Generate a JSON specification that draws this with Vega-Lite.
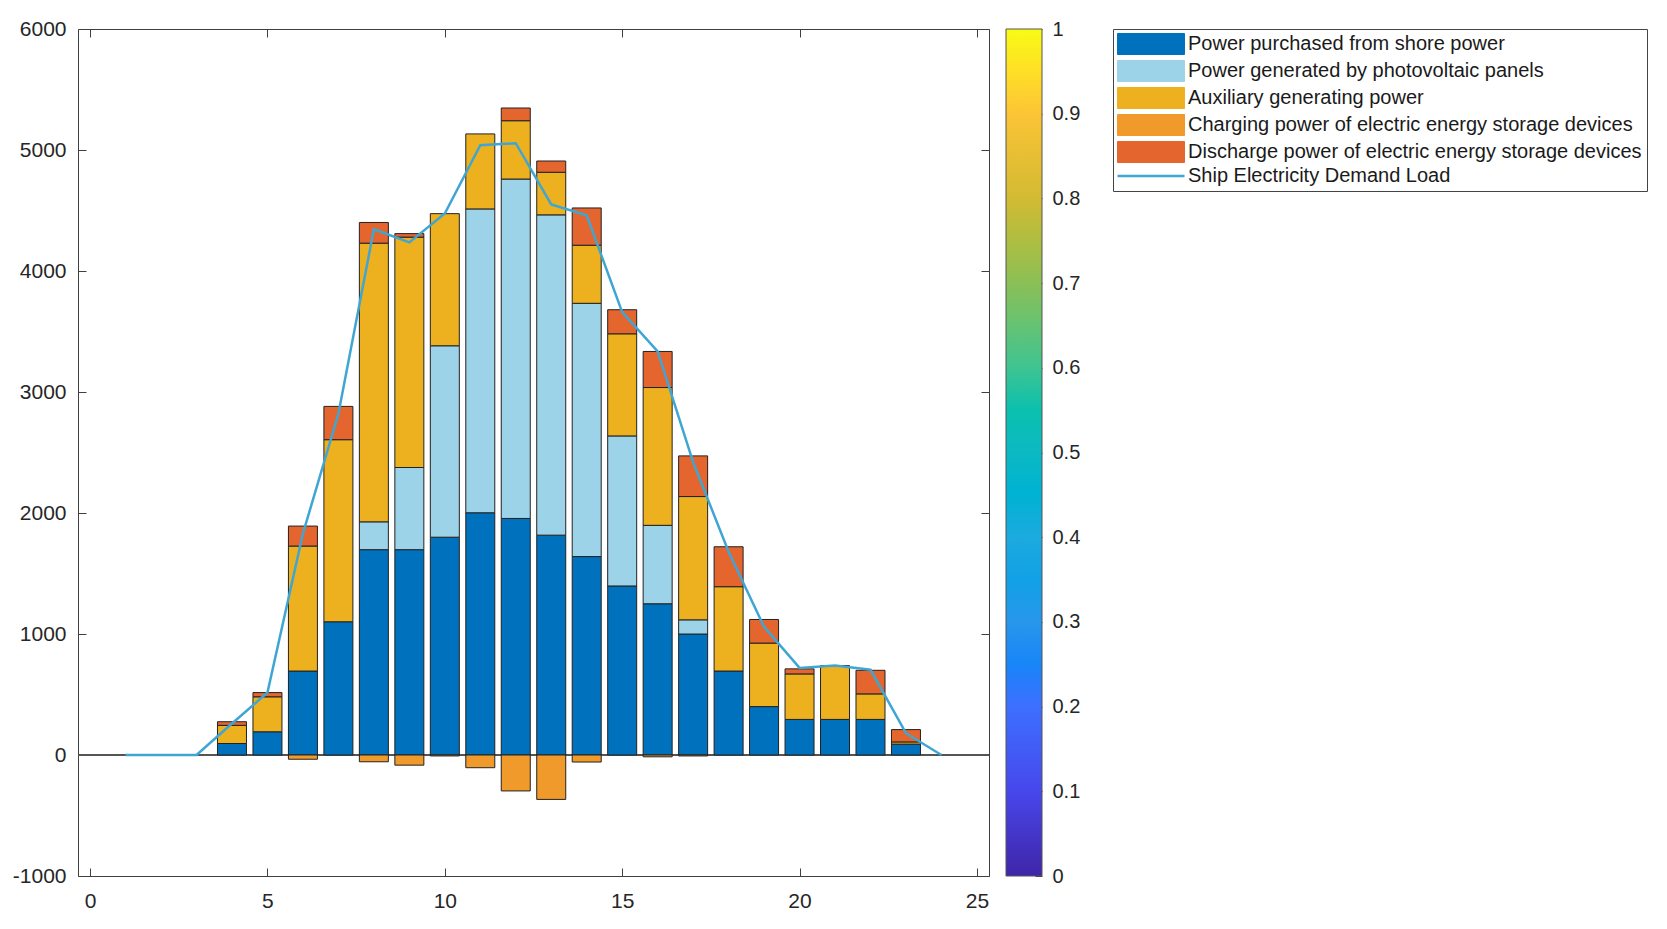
{
  "$schema": "https://vega.github.io/schema/vega-lite/v6.json",
  "width": 911,
  "height": 847,
  "autosize": {"type": "none"},
  "padding": {"left": 78, "top": 29, "right": 678, "bottom": 53},
  "background": "white",
  "config": {
    "view": {"stroke": null},
    "font": "Liberation Sans",
    "axis": {"grid": false, "domainColor": "#404040", "tickColor": "#404040", "labelColor": "#262626", "labelFont": "Liberation Sans", "labelFontSize": 21, "title": null, "labelFlush": false}
  },
  "datasets": {
    "parts": [
      {"h": 4, "s": "Power purchased from shore power", "k": 1, "v": 95},
      {"h": 4, "s": "Auxiliary generating power", "k": 3, "v": 150},
      {"h": 4, "s": "Discharge power of electric energy storage devices", "k": 5, "v": 30},
      {"h": 5, "s": "Power purchased from shore power", "k": 1, "v": 192},
      {"h": 5, "s": "Auxiliary generating power", "k": 3, "v": 289},
      {"h": 5, "s": "Discharge power of electric energy storage devices", "k": 5, "v": 35},
      {"h": 6, "s": "Power purchased from shore power", "k": 1, "v": 694},
      {"h": 6, "s": "Auxiliary generating power", "k": 3, "v": 1033},
      {"h": 6, "s": "Charging power of electric energy storage devices", "k": 4, "v": -35},
      {"h": 6, "s": "Discharge power of electric energy storage devices", "k": 5, "v": 165},
      {"h": 7, "s": "Power purchased from shore power", "k": 1, "v": 1101},
      {"h": 7, "s": "Auxiliary generating power", "k": 3, "v": 1505},
      {"h": 7, "s": "Discharge power of electric energy storage devices", "k": 5, "v": 275},
      {"h": 8, "s": "Power purchased from shore power", "k": 1, "v": 1697},
      {"h": 8, "s": "Power generated by photovoltaic panels", "k": 2, "v": 230},
      {"h": 8, "s": "Auxiliary generating power", "k": 3, "v": 2303},
      {"h": 8, "s": "Charging power of electric energy storage devices", "k": 4, "v": -56},
      {"h": 8, "s": "Discharge power of electric energy storage devices", "k": 5, "v": 171},
      {"h": 9, "s": "Power purchased from shore power", "k": 1, "v": 1697},
      {"h": 9, "s": "Power generated by photovoltaic panels", "k": 2, "v": 679},
      {"h": 9, "s": "Auxiliary generating power", "k": 3, "v": 1904},
      {"h": 9, "s": "Charging power of electric energy storage devices", "k": 4, "v": -84},
      {"h": 9, "s": "Discharge power of electric energy storage devices", "k": 5, "v": 29},
      {"h": 10, "s": "Power purchased from shore power", "k": 1, "v": 1800},
      {"h": 10, "s": "Power generated by photovoltaic panels", "k": 2, "v": 1582},
      {"h": 10, "s": "Auxiliary generating power", "k": 3, "v": 1092},
      {"h": 10, "s": "Charging power of electric energy storage devices", "k": 4, "v": -8},
      {"h": 11, "s": "Power purchased from shore power", "k": 1, "v": 2002},
      {"h": 11, "s": "Power generated by photovoltaic panels", "k": 2, "v": 2511},
      {"h": 11, "s": "Auxiliary generating power", "k": 3, "v": 620},
      {"h": 11, "s": "Charging power of electric energy storage devices", "k": 4, "v": -105},
      {"h": 12, "s": "Power purchased from shore power", "k": 1, "v": 1955},
      {"h": 12, "s": "Power generated by photovoltaic panels", "k": 2, "v": 2805},
      {"h": 12, "s": "Auxiliary generating power", "k": 3, "v": 482},
      {"h": 12, "s": "Charging power of electric energy storage devices", "k": 4, "v": -297},
      {"h": 12, "s": "Discharge power of electric energy storage devices", "k": 5, "v": 105},
      {"h": 13, "s": "Power purchased from shore power", "k": 1, "v": 1817},
      {"h": 13, "s": "Power generated by photovoltaic panels", "k": 2, "v": 2647},
      {"h": 13, "s": "Auxiliary generating power", "k": 3, "v": 352},
      {"h": 13, "s": "Charging power of electric energy storage devices", "k": 4, "v": -367},
      {"h": 13, "s": "Discharge power of electric energy storage devices", "k": 5, "v": 93},
      {"h": 14, "s": "Power purchased from shore power", "k": 1, "v": 1640},
      {"h": 14, "s": "Power generated by photovoltaic panels", "k": 2, "v": 2093},
      {"h": 14, "s": "Auxiliary generating power", "k": 3, "v": 480},
      {"h": 14, "s": "Charging power of electric energy storage devices", "k": 4, "v": -58},
      {"h": 14, "s": "Discharge power of electric energy storage devices", "k": 5, "v": 308},
      {"h": 15, "s": "Power purchased from shore power", "k": 1, "v": 1397},
      {"h": 15, "s": "Power generated by photovoltaic panels", "k": 2, "v": 1240},
      {"h": 15, "s": "Auxiliary generating power", "k": 3, "v": 844},
      {"h": 15, "s": "Discharge power of electric energy storage devices", "k": 5, "v": 199},
      {"h": 16, "s": "Power purchased from shore power", "k": 1, "v": 1250},
      {"h": 16, "s": "Power generated by photovoltaic panels", "k": 2, "v": 648},
      {"h": 16, "s": "Auxiliary generating power", "k": 3, "v": 1139},
      {"h": 16, "s": "Charging power of electric energy storage devices", "k": 4, "v": -15},
      {"h": 16, "s": "Discharge power of electric energy storage devices", "k": 5, "v": 298},
      {"h": 17, "s": "Power purchased from shore power", "k": 1, "v": 1000},
      {"h": 17, "s": "Power generated by photovoltaic panels", "k": 2, "v": 117},
      {"h": 17, "s": "Auxiliary generating power", "k": 3, "v": 1019},
      {"h": 17, "s": "Charging power of electric energy storage devices", "k": 4, "v": -8},
      {"h": 17, "s": "Discharge power of electric energy storage devices", "k": 5, "v": 336},
      {"h": 18, "s": "Power purchased from shore power", "k": 1, "v": 694},
      {"h": 18, "s": "Auxiliary generating power", "k": 3, "v": 697},
      {"h": 18, "s": "Discharge power of electric energy storage devices", "k": 5, "v": 330},
      {"h": 19, "s": "Power purchased from shore power", "k": 1, "v": 400},
      {"h": 19, "s": "Auxiliary generating power", "k": 3, "v": 525},
      {"h": 19, "s": "Discharge power of electric energy storage devices", "k": 5, "v": 195},
      {"h": 20, "s": "Power purchased from shore power", "k": 1, "v": 294},
      {"h": 20, "s": "Auxiliary generating power", "k": 3, "v": 376},
      {"h": 20, "s": "Discharge power of electric energy storage devices", "k": 5, "v": 42},
      {"h": 21, "s": "Power purchased from shore power", "k": 1, "v": 294},
      {"h": 21, "s": "Auxiliary generating power", "k": 3, "v": 445},
      {"h": 22, "s": "Power purchased from shore power", "k": 1, "v": 294},
      {"h": 22, "s": "Auxiliary generating power", "k": 3, "v": 211},
      {"h": 22, "s": "Discharge power of electric energy storage devices", "k": 5, "v": 195},
      {"h": 23, "s": "Power purchased from shore power", "k": 1, "v": 90},
      {"h": 23, "s": "Auxiliary generating power", "k": 3, "v": 18},
      {"h": 23, "s": "Discharge power of electric energy storage devices", "k": 5, "v": 102}
    ],
    "load": [
      {"h": 1, "load": 0}, {"h": 2, "load": 0}, {"h": 3, "load": 0},
      {"h": 4, "load": 260}, {"h": 5, "load": 516}, {"h": 6, "load": 1830},
      {"h": 7, "load": 2820}, {"h": 8, "load": 4345}, {"h": 9, "load": 4236},
      {"h": 10, "load": 4475}, {"h": 11, "load": 5040}, {"h": 12, "load": 5056},
      {"h": 13, "load": 4550}, {"h": 14, "load": 4460}, {"h": 15, "load": 3660},
      {"h": 16, "load": 3335}, {"h": 17, "load": 2420}, {"h": 18, "load": 1680},
      {"h": 19, "load": 1060}, {"h": 20, "load": 720}, {"h": 21, "load": 740},
      {"h": 22, "load": 705}, {"h": 23, "load": 180}, {"h": 24, "load": 0}
    ],
    "cbar": [{"c": 0}, {"c": 1}]
  },
  "resolve": {"axis": {"x": "independent", "y": "independent"}, "scale": {"y": "independent"}},
  "layer": [
    {
      "data": {"name": "load"},
      "mark": {"type": "rule", "color": "#555555", "strokeWidth": 1},
      "encoding": {"y": {"datum": 0, "type": "quantitative", "scale": {"domain": [-1000, 6000], "nice": false}, "axis": null}}
    },
    {
      "data": {"name": "parts"},
      "mark": {"type": "bar", "size": 29, "stroke": "#222222", "strokeWidth": 1},
      "encoding": {
        "x": {
          "field": "h",
          "type": "quantitative",
          "scale": {"domain": [-0.2, 25.2], "nice": false, "zero": false},
          "axis": {"orient": "bottom", "values": [0, 5, 10, 15, 20, 25], "tickSize": -8, "labelPadding": 22}
        },
        "y": {
          "field": "v",
          "type": "quantitative",
          "stack": "zero",
          "scale": {"domain": [-1000, 6000], "nice": false},
          "axis": {"orient": "left", "values": [-1000, 0, 1000, 2000, 3000, 4000, 5000, 6000], "labelExpr": "'' + datum.value", "tickSize": -8, "labelPadding": 20}
        },
        "order": {"field": "k", "type": "quantitative"},
        "color": {
          "field": "s",
          "type": "nominal",
          "scale": {
            "domain": [
              "Power purchased from shore power",
              "Power generated by photovoltaic panels",
              "Auxiliary generating power",
              "Charging power of electric energy storage devices",
              "Discharge power of electric energy storage devices",
              "Ship Electricity Demand Load"
            ],
            "range": ["#0072BD", "#9DD3E8", "#EDB120", "#EF9A2A", "#E4652E", "#3FA6D4"]
          },
          "legend": {
            "orient": "none",
            "legendX": 1035,
            "legendY": 0,
            "title": null,
            "symbolType": "M-1,-1H5.38V1H-1Z",
            "symbolSize": 441,
            "symbolStrokeColor": "#222222",
            "symbolStrokeWidth": 1,
            "symbolOpacity": 1,
            "labelFont": "Liberation Sans",
            "labelFontSize": 20,
            "labelColor": "#1a1a1a",
            "labelOffset": 50,
            "labelLimit": 700,
            "rowPadding": 1,
            "padding": 5,
            "strokeColor": "#444444",
            "fillColor": "white",
            "encode": {
              "symbols": {
                "update": {
                  "shape": {"signal": "datum.value === 'Ship Electricity Demand Load' ? 'M-1,0H5.38' : 'M-1,-1H5.38V1H-1Z'"},
                  "stroke": {"signal": "datum.value === 'Ship Electricity Demand Load' ? '#3FA6D4' : '#222222'"},
                  "strokeWidth": {"signal": "datum.value === 'Ship Electricity Demand Load' ? 2.5 : 1"}
                }
              }
            }
          }
        }
      }
    },
    {
      "data": {"name": "load"},
      "mark": {"type": "line", "strokeWidth": 2.5},
      "encoding": {
        "x": {
          "field": "h",
          "type": "quantitative",
          "axis": {"orient": "top", "values": [0, 5, 10, 15, 20, 25], "labels": false, "tickSize": -8}
        },
        "y": {
          "field": "load",
          "type": "quantitative",
          "scale": {"domain": [-1000, 6000], "nice": false},
          "axis": {"orient": "right", "values": [-1000, 0, 1000, 2000, 3000, 4000, 5000, 6000], "labels": false, "tickSize": -8}
        },
        "color": {"datum": "Ship Electricity Demand Load"}
      }
    },
    {
      "data": {"name": "cbar"},
      "mark": {"type": "point", "filled": true, "opacity": 1, "size": 0},
      "encoding": {
        "y": {
          "field": "c",
          "type": "quantitative",
          "scale": {"domain": [0, 1], "nice": false},
          "axis": {"orient": "right", "offset": 53, "values": [0, 0.1, 0.2, 0.3, 0.4, 0.5, 0.6, 0.7, 0.8, 0.9, 1], "format": "~g", "domain": false, "tickSize": -7, "labelPadding": 17, "labelFontSize": 20}
        },
        "fill": {
          "field": "c",
          "type": "quantitative",
          "scale": {
            "domain": [0, 0.1, 0.2, 0.3, 0.4, 0.5, 0.6, 0.7, 0.8, 0.9, 1],
            "range": ["#3E26A8", "#4747EB", "#3E6FFF", "#2796EB", "#1CAADF", "#0BB9C3", "#3EC492", "#8BBF56", "#D3BA33", "#FCC436", "#F9FB15"]
          },
          "legend": {
            "orient": "none",
            "legendX": 928,
            "legendY": 0,
            "direction": "vertical",
            "title": null,
            "gradientLength": 847,
            "gradientThickness": 36,
            "gradientStrokeColor": "#555555",
            "gradientStrokeWidth": 1,
            "values": [0, 1],
            "labelOpacity": 0,
            "labelFontSize": 1,
            "padding": 0
          }
        }
      }
    }
  ]
}
